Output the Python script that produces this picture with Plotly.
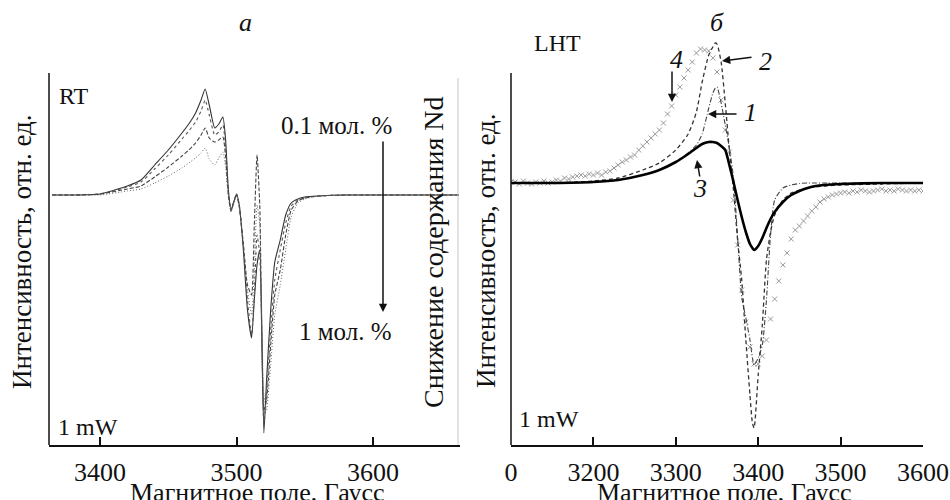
import plotly.graph_objects as go

# ---------------- Panel (a): RT ----------------
FIELD_RT = [3365, 3380, 3400, 3420, 3430, 3440, 3450, 3460, 3465, 3470,
            3474, 3477, 3480, 3484, 3487, 3490, 3492, 3494, 3496, 3498,
            3500, 3502, 3505, 3508, 3511, 3513, 3515, 3517, 3520, 3522,
            3525, 3528, 3532, 3536, 3540, 3545, 3550, 3560, 3580, 3600,
            3620, 3640, 3663]
RT_A = [0, 0, 1, 9, 15, 30, 45, 62, 71, 82,
        95, 106, 90, 67, 71, 78, 55, 5, -15, -7,
        1, -10, -55, -115, -143, -105, -70, -55, -238, -185,
        -115, -67, -45, -20, -8, -4, -2, -1, 0, 0,
        0, 0, 0]
RT_B = [0, 0, 1, 8, 13, 26, 40, 56, 64, 73,
        84, 95, 80, 60, 63, 70, 48, 3, -15, -6,
        1, -10, -50, -105, -140, -100, -40, -60, -230, -195,
        -135, -85, -55, -28, -11, -5, -3, -1, 0, 0,
        0, 0, 0]
RT_C = [0, 0, 1, 6, 9, 18, 28, 39, 45, 52,
        60, 67, 57, 53, 55, 58, 38, 0, -16, -7,
        0, -12, -50, -90, -100, -30, 40, -10, -215, -205,
        -150, -100, -75, -40, -15, -6, -3, -1, 0, 0,
        0, 0, 0]
RT_D = [0, 0, 0, 4, 6, 12, 19, 27, 32, 37,
        42, 47, 36, 30, 37, 43, 28, -2, -17, -8,
        0, -12, -50, -95, -120, -75, -10, -30, -200, -215,
        -170, -120, -90, -55, -22, -8, -4, -1, 0, 0,
        0, 0, 0]

# ---------------- Panel (б): LHT ----------------
FIELD_LHT = [3100, 3150, 3200, 3230, 3260, 3280, 3300, 3315, 3325, 3332,
             3340, 3345, 3348, 3350, 3355, 3360, 3365, 3370, 3375, 3380,
             3385, 3390, 3393, 3395, 3400, 3405, 3410, 3415, 3420, 3430,
             3440, 3450, 3460, 3470, 3480, 3500, 3550, 3600]
LHT_1 = [0, 0, 1, 3, 8, 13, 21, 30, 38, 49,
         75, 90, 95, 96, 80, 58, 35, 5, -54, -114,
         -135, -157, -175, -182, -175, -162, -117, -52, -17, -5,
         -2, -0.5, 0, 0, 0, 0, 0, 0]
LHT_2 = [0, 0, 2, 5, 13, 20, 33, 49, 71, 101,
         128, 136, 140, 139, 121, 80, 33, -7, -57, -97,
         -157, -212, -240, -245, -192, -142, -77, -49, -32, -17,
         -10, -7, -5, -4, -3, -2, -1, 0]
LHT_3 = [0, 0, 1, 3, 8, 13, 21, 29, 35, 39,
         41, 41, 40.5, 40, 37, 33, 18, 1, -17, -34,
         -49, -61, -65, -67, -63, -55, -45, -36, -29, -19,
         -12, -8, -5, -3, -2, -1, 0, 0]
FIELD_LHT_4 = list(range(3100, 3601, 5))
LHT_4 = [1, 1, -1, 2, 0, -1, 1, 0, 2, 0,
         1, 3, 2, 5, 4, 6, 7, 8, 7, 9,
         8, 10, 8, 11, 12, 15, 18, 21, 23, 26,
         28, 33, 37, 41, 45, 49, 53, 60, 69, 77,
         88, 96, 105, 113, 121, 130, 134, 133, 132, 125,
         111, 83, 53, 31, -17, -62, -107, -139, -164, -181,
         -181, -173, -157, -136, -116, -98, -82, -70, -56, -47,
         -43, -38, -33, -28, -24, -19, -16, -14, -12, -11,
         -10, -9, -10, -8, -9, -7, -8, -9, -8, -7,
         -6, -8, -7, -8, -6, -7, -8, -7, -8, -7,
         -8]

TICKS_RT = [3400, 3500, 3600]
TICKS_LHT = [3200, 3300, 3400, 3500, 3600]
TICKTEXT_LHT = ["3200", "3300", "3400", "3500", "3600"]

W, H = 950, 500
SERIF = "Times New Roman, Liberation Serif, DejaVu Serif, serif"


def px(x):
    return x / W


def py(y):
    return 1 - y / H


fig = go.Figure()

rt_styles = [
    (RT_A, dict(color="#333333", width=1.1, dash="solid")),
    (RT_B, dict(color="#555555", width=1.1, dash="dot")),
    (RT_C, dict(color="#444444", width=1.1, dash="4px,2px")),
    (RT_D, dict(color="#666666", width=1.0, dash="1px,2px")),
]
for vals, ln in rt_styles:
    fig.add_trace(go.Scatter(x=FIELD_RT, y=vals, mode="lines",
                             line=dict(shape="spline", smoothing=0.5, **ln),
                             xaxis="x", yaxis="y", showlegend=False))

fig.add_trace(go.Scatter(x=FIELD_LHT_4, y=LHT_4, mode="markers",
                         marker=dict(symbol="x-thin", size=5,
                                     line=dict(color="#9a9a9a", width=1)),
                         xaxis="x2", yaxis="y2", showlegend=False))
fig.add_trace(go.Scatter(x=FIELD_LHT, y=LHT_1, mode="lines",
                         line=dict(color="#444444", width=1.1, dash="5px,2px,1px,2px",
                                   shape="spline", smoothing=0.6),
                         xaxis="x2", yaxis="y2", showlegend=False))
fig.add_trace(go.Scatter(x=FIELD_LHT, y=LHT_2, mode="lines",
                         line=dict(color="#333333", width=1.3, dash="4px,3px",
                                   shape="spline", smoothing=0.6),
                         xaxis="x2", yaxis="y2", showlegend=False))
fig.add_trace(go.Scatter(x=FIELD_LHT, y=LHT_3, mode="lines",
                         line=dict(color="#000000", width=2.6,
                                   shape="spline", smoothing=0.6),
                         xaxis="x2", yaxis="y2", showlegend=False))

tickfont = dict(family=SERIF, size=26, color="#111111")
common_x = dict(showline=True, linecolor="#111111", linewidth=1.5,
                ticks="inside", ticklen=8, tickwidth=1.5, tickcolor="#111111",
                showgrid=False, zeroline=False, tickfont=tickfont,
                ticklabelstandoff=3, automargin=False)
common_y = dict(showline=False, showgrid=False, zeroline=False,
                showticklabels=False, ticks="", automargin=False)

fig.update_layout(
    template="none",
    width=W, height=H, autosize=False,
    margin=dict(l=0, r=0, t=0, b=0, pad=0),
    paper_bgcolor="white", plot_bgcolor="white",
    font=dict(family=SERIF),
    xaxis=dict(domain=[px(49), px(460)], range=[3362.6, 3663.7],
               tickvals=TICKS_RT, anchor="y", **common_x),
    yaxis=dict(domain=[py(445), py(35)], range=[-250, 160], anchor="x", **common_y),
    xaxis2=dict(domain=[px(511), px(923)], range=[3100, 3600],
                tickvals=[3100] + TICKS_LHT, ticktext=["0"] + TICKTEXT_LHT,
                anchor="y2", **common_x),
    yaxis2=dict(domain=[py(445), py(35)], range=[-262, 148], anchor="x2", **common_y),
)

shapes = [
    dict(type="line", xref="paper", yref="paper", x0=px(49), x1=px(49),
         y0=py(73), y1=py(445), line=dict(color="#111111", width=1.5)),
    dict(type="line", xref="paper", yref="paper", x0=px(458), x1=px(458),
         y0=py(78), y1=py(445), line=dict(color="#c8c8c8", width=1)),
    dict(type="line", xref="paper", yref="paper", x0=px(511), x1=px(511),
         y0=py(73), y1=py(445), line=dict(color="#111111", width=1.5)),
]
fig.update_layout(shapes=shapes)


def txt(x, y, s, size=24, angle=0, italic=False):
    if italic:
        s = "<i>" + s + "</i>"
    return dict(x=px(x), y=py(y), xref="paper", yref="paper", text=s,
                showarrow=False, textangle=angle, xanchor="center", yanchor="middle",
                font=dict(family=SERIF, size=size, color="#111111"))


def arrow(hx, hy, tx, ty):
    return dict(x=px(hx), y=py(hy), xref="paper", yref="paper", text="",
                showarrow=True, ax=tx - hx, ay=ty - hy, arrowhead=2,
                arrowsize=1.1, arrowwidth=1.5, arrowcolor="#111111")


annotations = [
    txt(245, 22, "а", 26, italic=True),
    txt(717, 22, "б", 26, italic=True),
    txt(74, 96, "RT", 24),
    txt(88, 427, "1 mW", 24),
    txt(336, 125, "0.1 мол. %", 25),
    txt(345, 331, "1 мол. %", 25),
    txt(433, 252, "Снижение содержания Nd", 28, angle=-90),
    txt(22, 252, "Интенсивность, отн. ед.", 27, angle=-90),
    txt(486, 250, "Интенсивность, отн. ед.", 27, angle=-90),
    txt(257, 492, "Магнитное поле, Гаусс", 26),
    txt(724, 492, "Магнитное поле, Гаусс", 26),
    txt(557, 43, "LHT", 24),
    txt(549, 419, "1 mW", 24),
    txt(676, 59, "4", 26, italic=True),
    txt(765, 61, "2", 26, italic=True),
    txt(750, 113, "1", 26, italic=True),
    txt(700, 188, "3", 26, italic=True),
    arrow(383, 312, 383, 140),
    arrow(672, 102, 672, 70),
    arrow(722, 61, 753, 57),
    arrow(708, 114, 738, 114),
    arrow(697, 160, 700, 178),
]
fig.update_layout(annotations=annotations)

fig.write_html("out.html", config={"responsive": False})
